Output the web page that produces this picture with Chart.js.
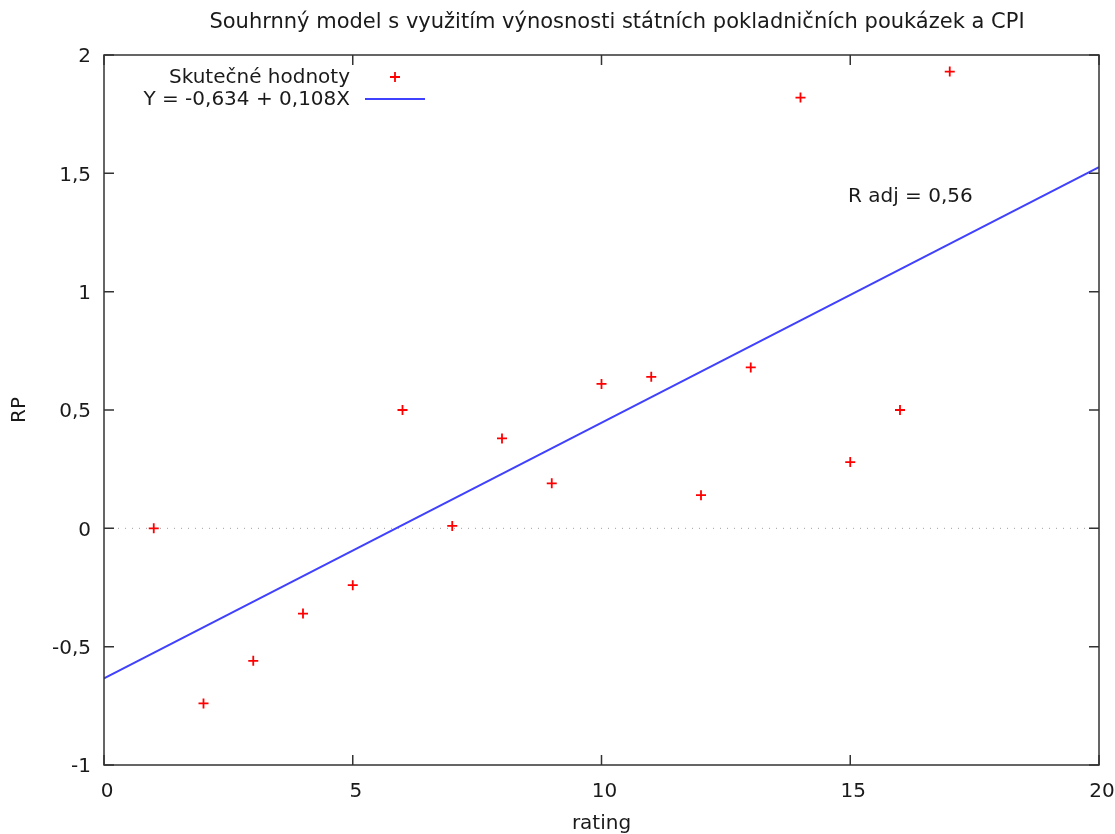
<!DOCTYPE html>
<html>
<head>
<meta charset="utf-8">
<script src="https://cdn.jsdelivr.net/npm/chart.js@4/dist/chart.umd.min.js"></script>
<style>
  html, body { margin: 0; padding: 0; background: #fff; }
  #wrap { width: 1115px; height: 834px; }
</style>
</head>
<body>
<div id="wrap"><canvas id="chart" width="1115" height="834"></canvas></div>
<script>
// data
const ratings = [1, 2, 3, 4, 5, 6, 7, 8, 9, 10, 11, 12, 13, 14, 15, 16, 17];
const rpValues = [0.00, -0.74, -0.56, -0.36, -0.24, 0.50, 0.01, 0.38, 0.19, 0.61, 0.64, 0.14, 0.68, 1.82, 0.28, 0.50, 1.93];
const fitX = [0, 20];
const fitY = [-0.634, 1.526];
const xTicks = [0, 5, 10, 15, 20];
const yTicks = [-1, -0.5, 0, 0.5, 1, 1.5, 2];

const chartTitle = "Souhrnný model s využitím výnosnosti státních pokladničních poukázek a CPI";
const seriesLabels = ["Skutečné hodnoty", "Y = -0,634 + 0,108X"];
const noteText = "R adj = 0,56";

const FONT = "DejaVu Sans";
const FS = 20;
const TEXT = "#1a1a1a";
const RED = "rgb(255,0,0)";
const BLUE = "rgb(64,64,255)";

const fmt = (v) => String(v).replace(".", ",");

// frame, inward ticks, zero line, title, legend, note
const gnuplotLook = {
  id: "gnuplotLook",
  beforeDatasetsDraw(chart) {
    const { ctx, chartArea: a, scales } = chart;
    const y0 = scales.y.getPixelForValue(0);
    ctx.save();
    ctx.strokeStyle = "#a0a0a0";
    ctx.lineWidth = 1;
    ctx.setLineDash([1, 6]);
    ctx.beginPath();
    ctx.moveTo(a.left, y0);
    ctx.lineTo(a.right, y0);
    ctx.stroke();
    ctx.restore();
  },
  afterDraw(chart) {
    const { ctx, chartArea: a, scales } = chart;
    ctx.save();
    ctx.strokeStyle = "#333";
    ctx.lineWidth = 1.5;
    ctx.strokeRect(a.left, a.top, a.right - a.left, a.bottom - a.top);

    const tl = 10;
    ctx.beginPath();
    xTicks.forEach((v) => {
      const px = scales.x.getPixelForValue(v);
      ctx.moveTo(px, a.bottom); ctx.lineTo(px, a.bottom - tl);
      ctx.moveTo(px, a.top); ctx.lineTo(px, a.top + tl);
    });
    yTicks.forEach((v) => {
      const py = scales.y.getPixelForValue(v);
      ctx.moveTo(a.left, py); ctx.lineTo(a.left + tl, py);
      ctx.moveTo(a.right, py); ctx.lineTo(a.right - tl, py);
    });
    ctx.stroke();

    ctx.fillStyle = TEXT;
    ctx.textBaseline = "middle";
    ctx.textAlign = "center";
    ctx.font = "21px '" + FONT + "'";
    ctx.fillText(chartTitle, 617, 23);

    // legend
    ctx.font = FS + "px '" + FONT + "'";
    ctx.textAlign = "right";
    ctx.fillText(seriesLabels[0], 350, 78);
    ctx.fillText(seriesLabels[1], 350, 100);
    ctx.strokeStyle = RED;
    ctx.lineWidth = 1.8;
    ctx.beginPath();
    ctx.moveTo(390, 77); ctx.lineTo(400, 77);
    ctx.moveTo(395, 72); ctx.lineTo(395, 82);
    ctx.stroke();
    ctx.strokeStyle = BLUE;
    ctx.lineWidth = 2;
    ctx.beginPath();
    ctx.moveTo(365, 99); ctx.lineTo(425, 99);
    ctx.stroke();

    ctx.textAlign = "left";
    ctx.fillText(noteText, 848, 197);
    ctx.restore();
  },
};

const ctx = document.getElementById("chart").getContext("2d");
new Chart(ctx, {
  data: {
    datasets: [
      {
        type: "scatter",
        label: seriesLabels[0],
        data: ratings.map((r, i) => ({ x: r, y: rpValues[i] })),
        pointStyle: "cross",
        pointRadius: 5,
        pointBorderWidth: 1.8,
        borderColor: RED,
        backgroundColor: RED,
        order: 1,
      },
      {
        type: "line",
        label: seriesLabels[1],
        data: fitX.map((x, i) => ({ x: x, y: fitY[i] })),
        borderColor: BLUE,
        borderWidth: 2,
        pointRadius: 0,
        fill: false,
        order: 2,
      },
    ],
  },
  options: {
    responsive: false,
    animation: false,
    layout: { padding: { top: 55, right: 16, left: 0, bottom: 0 } },
    plugins: { legend: { display: false }, tooltip: { enabled: false } },
    scales: {
      x: {
        type: "linear",
        min: 0,
        max: 20,
        afterBuildTicks: (scale) => { scale.ticks = xTicks.map((v) => ({ value: v })); },
        afterFit: (scale) => {
          scale.height = 69;
          scale.paddingLeft = 0;
          scale.paddingRight = 0;
        },
        grid: { display: false, drawTicks: false },
        border: { display: false },
        ticks: {
          color: TEXT,
          padding: 15,
          labelOffset: 3,
          font: { family: FONT, size: FS },
          callback: (v) => fmt(v),
        },
        title: {
          display: true,
          text: "rating",
          color: TEXT,
          padding: { top: 0, bottom: -2 },
          font: { family: FONT, size: FS },
        },
      },
      y: {
        type: "linear",
        min: -1,
        max: 2,
        afterBuildTicks: (scale) => { scale.ticks = yTicks.map((v) => ({ value: v })); },
        afterFit: (scale) => {
          scale.width = 104;
          scale.paddingTop = 0;
          scale.paddingBottom = 0;
        },
        grid: { display: false, drawTicks: false },
        border: { display: false },
        ticks: {
          color: TEXT,
          padding: 13,
          labelOffset: 2,
          font: { family: FONT, size: FS },
          callback: (v) => fmt(v),
        },
        title: {
          display: true,
          text: "RP",
          color: TEXT,
          padding: { top: 8, bottom: 0 },
          font: { family: FONT, size: FS },
        },
      },
    },
  },
  plugins: [gnuplotLook],
});
</script>
</body>
</html>
